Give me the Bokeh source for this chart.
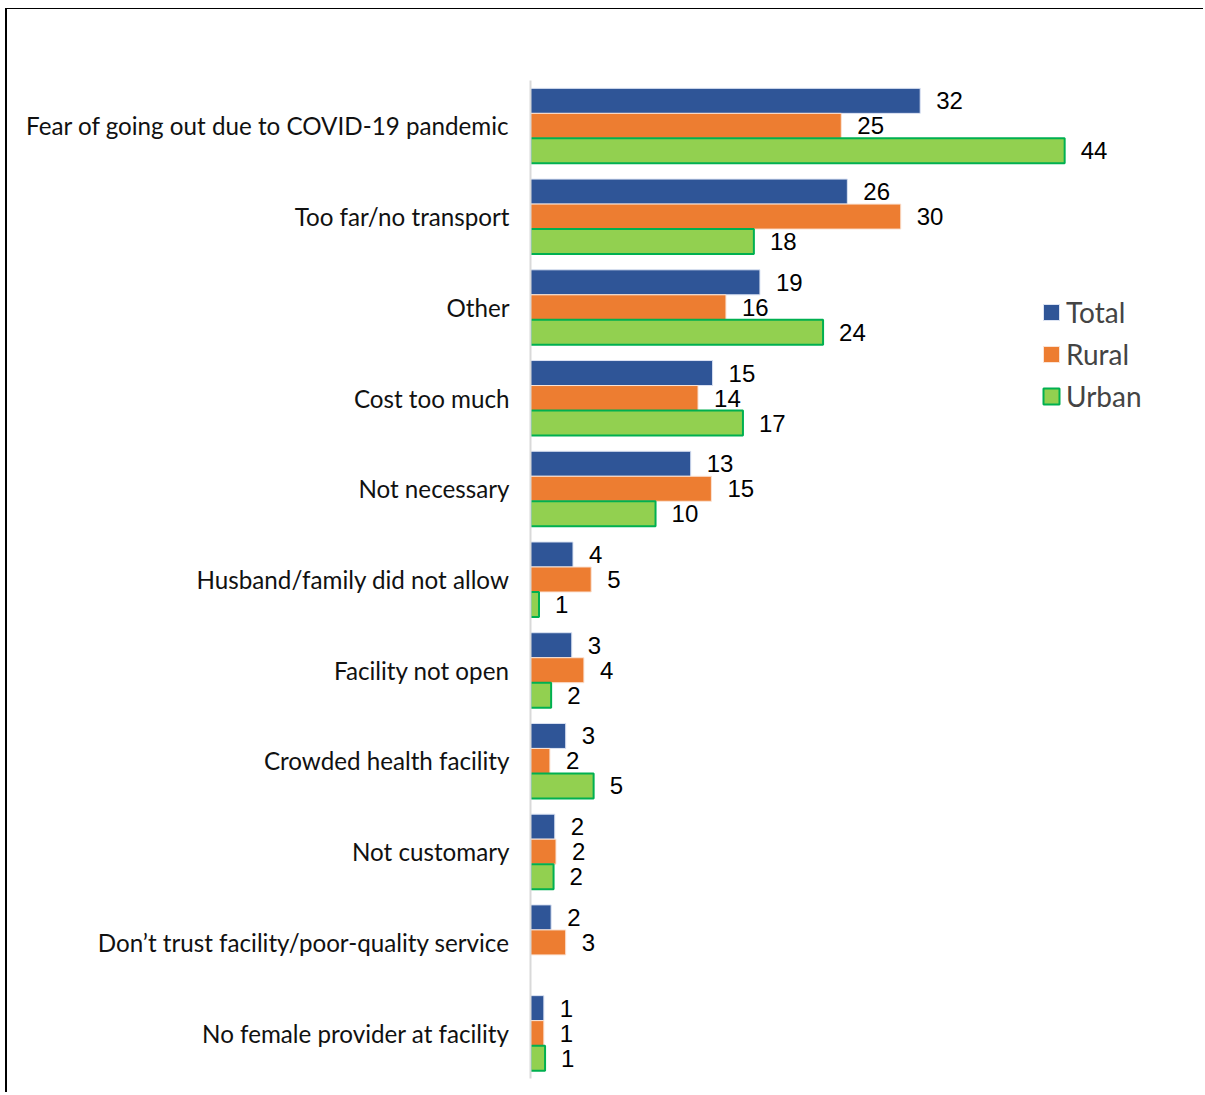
from bokeh.plotting import figure
from bokeh.models import ColumnDataSource, FactorRange, Range1d, Legend, LegendItem
from bokeh.transform import dodge
from bokeh.core.properties import value
from bokeh.embed import file_html
from bokeh.resources import INLINE

categories = [
    "Fear of going out due to COVID-19 pandemic",
    "Too far/no transport",
    "Other",
    "Cost too much",
    "Not necessary",
    "Husband/family did not allow",
    "Facility not open",
    "Crowded health facility",
    "Not customary",
    "Don\u2019t trust facility/poor-quality service",
    "No female provider at facility",
]
total_values = [32.1, 26.1, 18.9, 15.0, 13.2, 3.5, 3.4, 2.9, 2.0, 1.7, 1.1]
rural_values = [25.6, 30.5, 16.1, 13.8, 14.9, 5.0, 4.4, 1.6, 2.1, 2.9, 1.1]
urban_values = [44.0, 18.4, 24.1, 17.5, 10.3, 0.7, 1.7, 5.2, 1.9, None, 1.2]
total_labels = ["32", "26", "19", "15", "13", "4", "3", "3", "2", "2", "1"]
rural_labels = ["25", "30", "16", "14", "15", "5", "4", "2", "2", "3", "1"]
urban_labels = ["44", "18", "24", "17", "10", "1", "2", "5", "2", None, "1"]

W, H = 1198, 1084
LEFT, TOP, BOTTOM = 523, 71, 15
PX_PER_UNIT = 12.14
x_end = (W - LEFT) / PX_PER_UNIT

p = figure(width=W, height=H, output_backend="svg", toolbar_location=None,
           y_range=FactorRange(factors=list(reversed(categories))),
           x_range=Range1d(0, x_end))
p.min_border_left = LEFT
p.min_border_top = TOP
p.min_border_bottom = BOTTOM
p.min_border_right = 0
p.outline_line_color = None
p.xgrid.visible = False
p.ygrid.visible = False
p.xaxis.visible = False
p.styles = {"border-left": "2px solid black", "border-top": "1px solid black",
            "margin-left": "5px", "margin-top": "8px"}

yax = p.yaxis[0]
yax.axis_line_color = "#d9d9d9"
yax.axis_line_width = 2
yax.major_tick_line_color = None
yax.minor_tick_line_color = None
yax.major_tick_out = 0
yax.major_tick_in = 0
yax.major_label_standoff = 21
yax.major_label_text_font = "Lato"
yax.major_label_text_font_size = "24.2px"
yax.major_label_text_color = "#111111"

bar_h = 0.2756
series = [
    ("Total", total_values, total_labels, bar_h, "#2F5597", "#dbe3f3", 1),
    ("Rural", rural_values, rural_labels, 0.0, "#ED7D31", "#fbe3d4", 1),
    ("Urban", urban_values, urban_labels, -bar_h, "#92D050", "#00B050", 2),
]

items = []
for name, vals, labs, off, fill, line, lw in series:
    cats = [c for c, v in zip(categories, vals) if v is not None]
    vv = [v for v in vals if v is not None]
    ll = [l for l in labs if l is not None]
    src = ColumnDataSource(dict(cat=cats, val=vv, lab=ll))
    r = p.hbar(y=dodge("cat", off, range=p.y_range), right="val", left=0,
               height=bar_h, source=src, fill_color=fill, line_color=line,
               line_width=lw)
    p.text(x="val", y=dodge("cat", off, range=p.y_range), text="lab", source=src,
           x_offset=16, text_align="left", text_baseline="middle",
           text_font=value("Liberation Sans"), text_font_size="24px",
           text_color="black")
    items.append(LegendItem(label=name, renderers=[r]))

legend = Legend(items=items, location=(511, 665))
legend.padding = 0
legend.margin = 0
legend.border_line_color = None
legend.background_fill_alpha = 0
legend.glyph_width = 20
legend.glyph_height = 20
legend.label_standoff = 5
legend.label_text_font = "Lato"
legend.label_text_font_size = "28px"
legend.label_height = 34
legend.spacing = 8
p.add_layout(legend)

open("out.html", "w").write(file_html(p, INLINE))
